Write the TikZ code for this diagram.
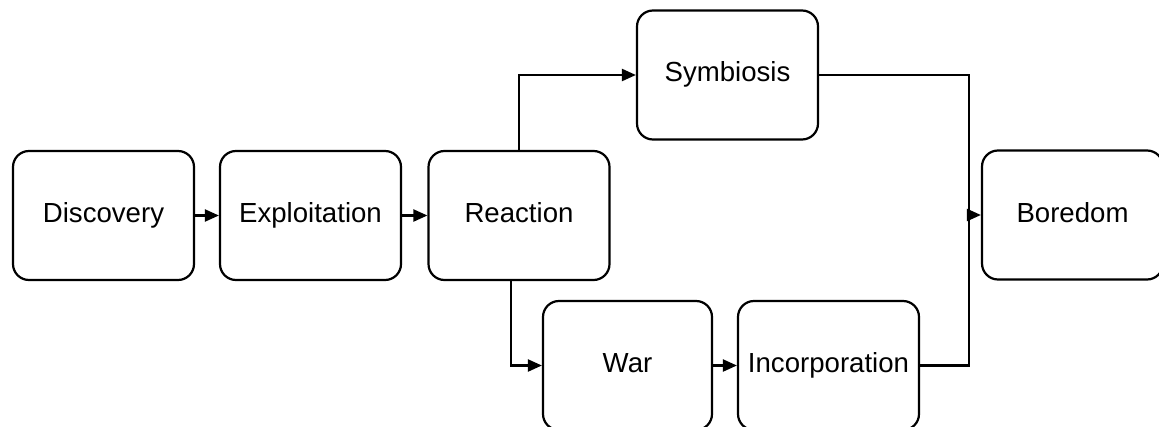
\documentclass[tikz,border=0pt]{standalone}
\usepackage{fontspec}
\setmainfont{Liberation Sans}
\usepackage{tikz}
\usetikzlibrary{arrows.meta, positioning}

\begin{document}
\begin{tikzpicture}[
    x=0.5pt, y=-0.5pt,
    stage/.style={rectangle, rounded corners=8pt, draw=black, line width=1.1pt, minimum width=90.5pt, minimum height=64.5pt, text height=10pt, text depth=3pt, font=\fontsize{13.8}{16}\selectfont},
    arrow/.style={-{Triangle[length=7pt, width=6pt]}, line width=1.1pt},
    link/.style={line width=1.1pt}
]
    \useasboundingbox (0,0) rectangle (1159,427);

    % Main line
    \node[stage] (disc) at (103.5, 215.5) {Discovery};
    \node[stage] (expl) at (310.5, 215.5) {Exploitation};
    \node[stage] (react) at (519, 215.5) {Reaction};

    % Two branches
    \node[stage] (symb) at (727.5, 75) {Symbiosis};
    \node[stage, minimum width=84.5pt] (war) at (627.5, 365.5) {War};
    \node[stage] (incorp) at (828.5, 365.5) {Incorporation};

    % End
    \node[stage] (bored) at (1072.5, 215) {Boredom};
    \coordinate[left=6pt of bored.west] (merge);

    \draw[arrow] (disc) -- (expl);
    \draw[arrow] (expl) -- (react);
    \draw[arrow] (react.north) |- (symb.west);
    \draw[arrow] ([xshift=-4pt]react.south) |- (war.west);
    \draw[arrow] (war) -- (incorp);

    \draw[link] (symb.east) -| (merge);
    \draw[link] (incorp.east) -| (merge);
    \draw[arrow] (merge) -- (bored.west);
\end{tikzpicture}
\end{document}
